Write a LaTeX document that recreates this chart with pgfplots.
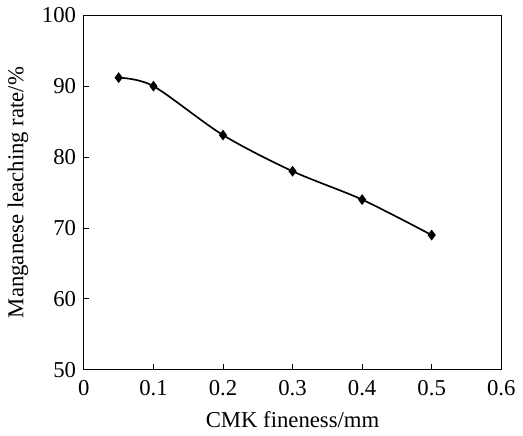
\documentclass[border=0pt]{standalone}
\usepackage{fontspec}
\setmainfont{Liberation Serif}
\usepackage{pgfplots}
\pgfplotsset{compat=1.18}
\begin{document}
\fontsize{12.3}{14}\selectfont
\begin{tikzpicture}
\begin{axis}[
  scale only axis,
  width=226pt,
  height=192pt,
  xmin=0, xmax=0.6,
  ymin=50, ymax=100,
  xtick={0,0.1,0.2,0.3,0.4,0.5,0.6},
  ytick={50,60,70,80,90,100},
  xticklabels={0,0.1,0.2,0.3,0.4,0.5,0.6},
  xtick pos=bottom,
  ytick pos=left,
  tick align=inside,
  major tick length=3pt,
  axis line style={line width=0.6pt},
  tick style={line width=0.5pt, black},
  /pgf/number format/assume math mode=true,
  ticklabel style={font=\fontsize{12.3}{14}\selectfont},
  xticklabel style={yshift=-1.5pt},
  label style={font=\fontsize{12.3}{14}\selectfont},
  xlabel={CMK fineness/mm},
  ylabel={Manganese leaching rate/\%},
  ylabel style={yshift=-1pt},
]
\addplot[black, line width=0.9pt, smooth, mark=diamond*, mark size=2.2pt,
  mark options={solid, fill=black}] coordinates {
  (0.05,91.2) (0.1,90.0) (0.2,83.1) (0.3,78.0) (0.4,74.0) (0.5,69.0)
};
\end{axis}
\end{tikzpicture}
\end{document}
